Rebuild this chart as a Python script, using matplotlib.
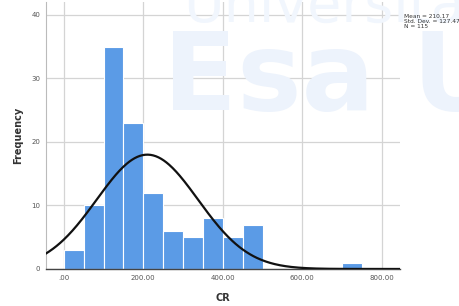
import numpy as np
import matplotlib.pyplot as plt

# histogram of CR (bin width 50)
bin_edges = [0, 50, 100, 150, 200, 250, 300, 350, 400, 450, 500,
             550, 600, 650, 700, 750]
counts = [3, 10, 35, 23, 12, 6, 5, 8, 5, 7, 0, 0, 0, 0, 1]
x_ticks = [0, 200, 400, 600, 800]
x_labels = [".00", "200.00", "400.00", "600.00", "800.00"]
y_ticks = [0, 10, 20, 30, 40]
mean, sd, n = 210.17, 127.47, 115

fig = plt.figure(figsize=(4.59, 3.06), dpi=100)
ax = fig.add_axes([0.100, 0.121, 0.771, 0.872])

# faint watermark
fig.text(0.355, 0.64, "Esa U", fontsize=78, fontweight="bold",
         color="#edf3fc", zorder=0, clip_on=True)
fig.text(0.40, 0.93, "Universitas", fontsize=40, color="#f1f6fd", zorder=0,
         clip_on=True)
ax.set_facecolor("none")

widths = np.diff(bin_edges)
ax.bar(bin_edges[:-1], counts, width=widths, align="edge",
       color="#5b9be6", edgecolor="white", linewidth=0.8, zorder=2)

xs = np.linspace(-45, 845, 400)
pdf = n * 50 / (sd * np.sqrt(2 * np.pi)) * np.exp(-0.5 * ((xs - mean) / sd) ** 2)
ax.plot(xs, pdf, color="#111111", linewidth=1.6, zorder=3)

ax.set_xlim(-45, 845)
ax.set_ylim(0, 42)
ax.set_xticks(x_ticks)
ax.set_xticklabels(x_labels)
ax.set_yticks(y_ticks)
ax.grid(True, color="#d4d4d4", linewidth=0.9, zorder=0)
ax.set_axisbelow(True)
ax.tick_params(length=0, labelsize=5, colors="#555555", pad=4)
for s in ["top", "right"]:
    ax.spines[s].set_visible(False)
ax.spines["left"].set_color("#bbbbbb")
ax.spines["bottom"].set_color("#444444")
ax.spines["bottom"].set_linewidth(1.0)

ax.set_xlabel("CR", fontsize=7, fontweight="bold", color="#333333", labelpad=9)
ax.set_ylabel("Frequency", fontsize=7, fontweight="bold", color="#333333",
              labelpad=6)

fig.text(0.880, 0.955, "Mean = 210.17\nStd. Dev. = 127.47\nN = 115",
         fontsize=4.2, color="#333333", va="top", linespacing=1.0)

fig.savefig("out.png", dpi=100)
